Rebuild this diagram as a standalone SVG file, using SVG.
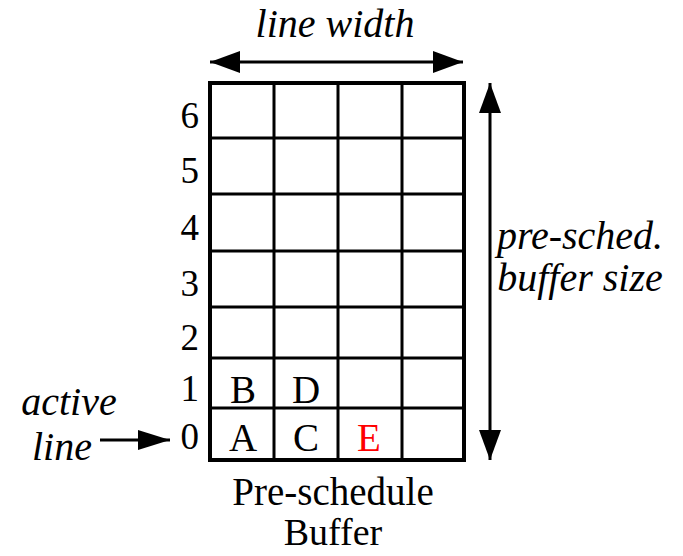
<svg xmlns="http://www.w3.org/2000/svg" width="683" height="556" viewBox="0 0 683 556">
<style>
text{font-family:"Liberation Serif","Times New Roman",serif;font-size:39px;fill:#000}
.it{font-style:italic;font-size:40px}
.num{text-anchor:end;font-size:37px}
.mid{text-anchor:middle}
.red{fill:#ff0000}
.grid{stroke:#000;stroke-width:3;fill:none}
.outer{stroke:#000;stroke-width:4;fill:none}
.arr{stroke:#000;stroke-width:3;fill:none}
</style>
<defs>
<marker id="ah" viewBox="0 0 30 22" refX="30" refY="11" markerWidth="30" markerHeight="22" markerUnits="userSpaceOnUse" orient="auto-start-reverse">
<path d="M0,0 L30,11 L0,22 Z" fill="#000"/>
</marker>
<marker id="ah2" viewBox="0 0 32 20" refX="32" refY="10" markerWidth="32" markerHeight="20" markerUnits="userSpaceOnUse" orient="auto">
<path d="M0,0 L32,10 L0,20 Z" fill="#000"/>
</marker>
</defs>
<g id="buffer">
<path class="grid" d="M274,83V460M338,83V460M402,83V460M210,138H464M210,194H464M210,251H464M210,307H464M210,358H464M210,408H464"/>
<rect class="outer" x="210" y="83" width="254" height="377"/>
</g>
<g id="row-labels">
<text class="num" x="199" y="128">6</text>
<text class="num" x="199" y="183">5</text>
<text class="num" x="199" y="240">4</text>
<text class="num" x="199" y="296">3</text>
<text class="num" x="199" y="350">2</text>
<text class="num" x="199" y="401">1</text>
<text class="num" x="199" y="449">0</text>
</g>
<g id="cells">
<text class="mid" x="243" y="403">B</text>
<text class="mid" x="306" y="403">D</text>
<text class="mid" x="243" y="451">A</text>
<text class="mid" x="306" y="451">C</text>
<text class="mid red" x="369" y="451">E</text>
</g>
<g id="labels">
<text class="it mid" x="335" y="37">line width</text>
<text class="it mid" x="580" y="249">pre-sched.</text>
<text class="it mid" x="580" y="291">buffer size</text>
<text class="it mid" x="69" y="415">active</text>
<text class="it mid" x="62" y="460">line</text>
<text class="mid" x="333" y="505">Pre-schedule</text>
<text class="mid" x="333" y="545" style="font-size:38px">Buffer</text>
</g>
<g id="connectors">
<line class="arr" x1="210" y1="62" x2="463" y2="62" marker-start="url(#ah)" marker-end="url(#ah)"/>
<line class="arr" x1="490" y1="83" x2="490" y2="460" marker-start="url(#ah)" marker-end="url(#ah)"/>
<line class="arr" x1="100" y1="440" x2="170" y2="440" marker-end="url(#ah2)"/>
</g>
</svg>
